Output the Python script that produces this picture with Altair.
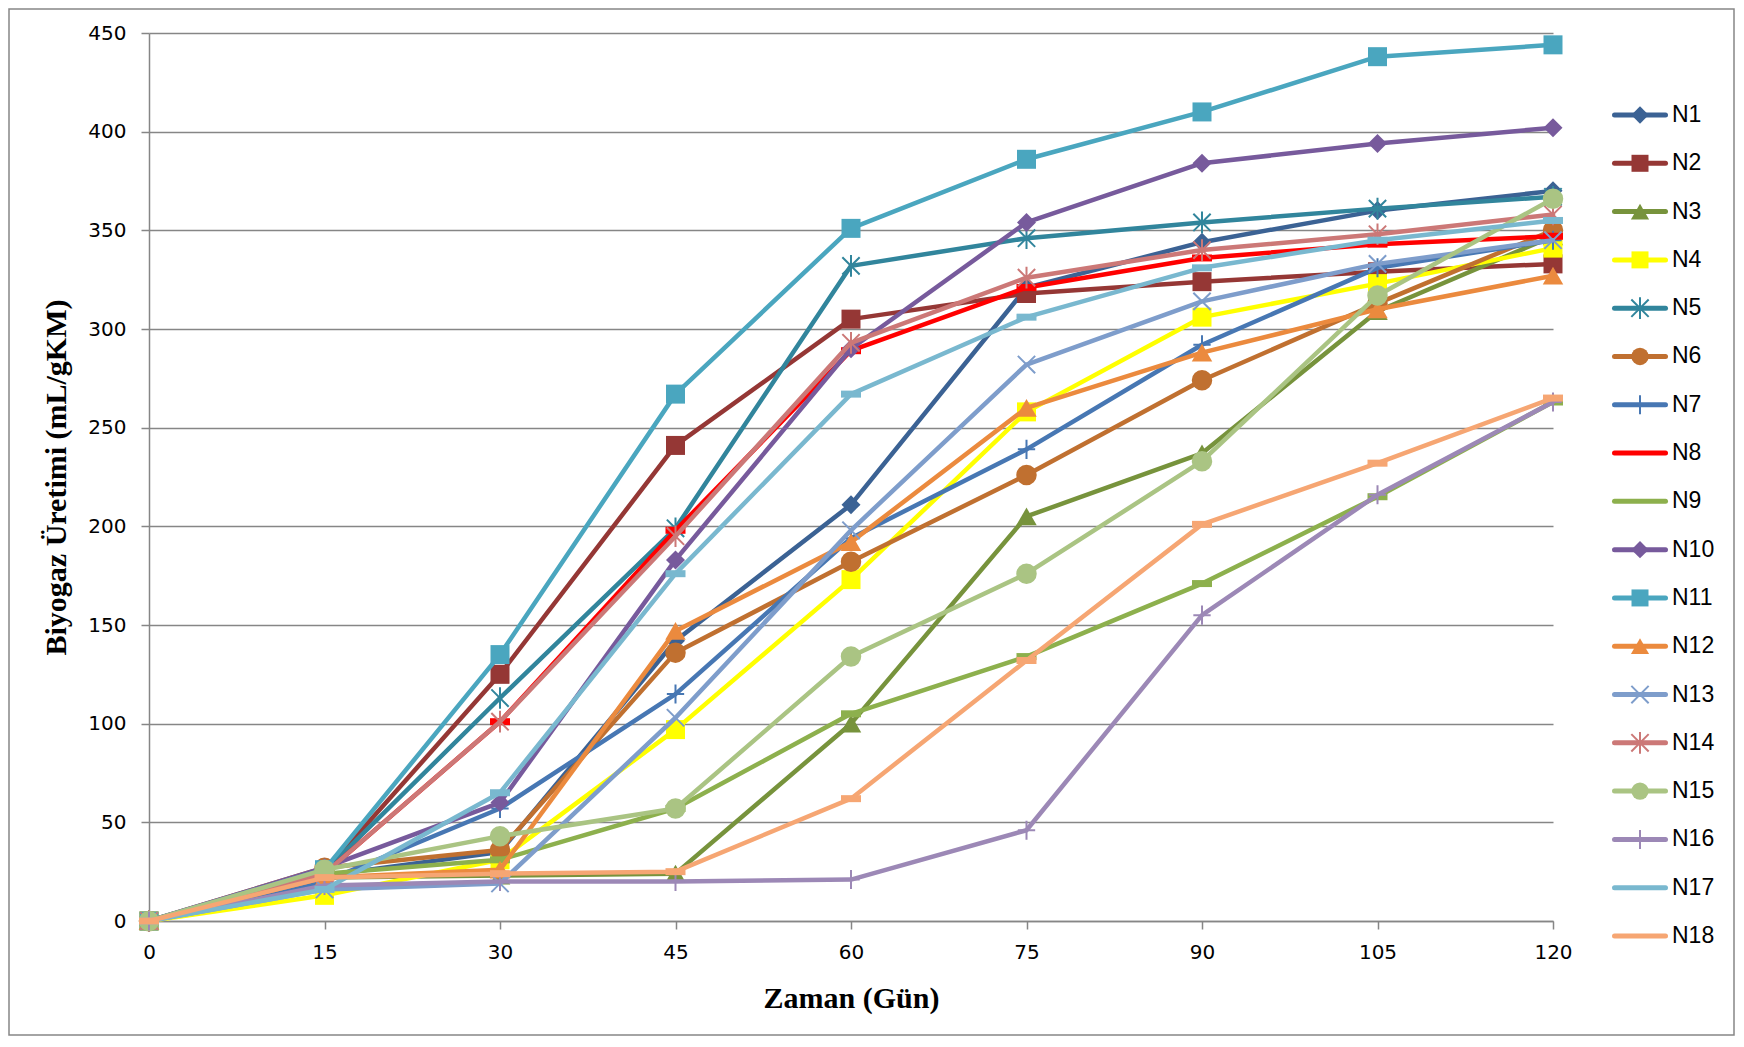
import altair as alt
import pandas as pd

days = [0, 15, 30, 45, 60, 75, 90, 105, 120]
names = ["N1", "N2", "N3", "N4", "N5", "N6", "N7", "N8", "N9",
         "N10", "N11", "N12", "N13", "N14", "N15", "N16", "N17", "N18"]

N1 = [0, 23, 35, 142, 211, 321, 344, 360, 370]
N2 = [0, 25, 125, 241, 305, 318, 324, 329, 333]
N3 = [0, 22, 23, 24, 100, 205, 237, 309, 347]
N4 = [0, 13, 31, 97, 173, 258, 306, 323, 341]
N5 = [0, 25, 113, 199, 332, 346, 354, 361, 367]
N6 = [0, 27, 36, 136, 182, 226, 274, 313, 350]
N7 = [0, 20, 57, 115, 194, 239, 292, 331, 345]
N8 = [0, 24, 101, 198, 289, 321, 336, 343, 347]
N9 = [0, 24, 31, 57, 105, 134, 171, 215, 263]
N10 = [0, 27, 60, 183, 290, 354, 384, 394, 402]
N11 = [0, 26, 135, 267, 351, 386, 410, 438, 444]
N12 = [0, 22, 26, 147, 192, 260, 288, 310, 327]
N13 = [0, 16, 19, 103, 198, 282, 314, 333, 345]
N14 = [0, 24, 101, 195, 293, 326, 340, 348, 358]
N15 = [0, 26, 43, 57, 134, 176, 233, 317, 366]
N16 = [0, 18, 20, 20, 21, 46, 155, 216, 263]
N17 = [0, 16, 65, 176, 267, 306, 331, 345, 355]
N18 = [0, 22, 24, 25, 62, 132, 201, 232, 265]

series_values = [N1, N2, N3, N4, N5, N6, N7, N8, N9,
                 N10, N11, N12, N13, N14, N15, N16, N17, N18]

colors = ["#3B6294", "#953735", "#77933C", "#FFFF00", "#31859C", "#C07030",
          "#4777B3", "#FF0000", "#8DB04D", "#775A9C", "#4AA6BF", "#EB8A3E",
          "#7E9DCB", "#CC7877", "#AAC483", "#9C88B6", "#79B8CF", "#F6A673"]

marker_kind = ["diamond", "square", "triangle", "square", "asterisk", "circle",
               "plus", "dash", "dash", "diamond", "square", "triangle",
               "x", "asterisk", "circle", "plus", "dash", "dash"]

y_ticks = [0, 50, 100, 150, 200, 250, 300, 350, 400, 450]

# marker shapes: (vega shape, filled, size in plot, size in legend)
SHAPES = {
    "diamond": ("diamond", True, 361, 300),
    "square": ("square", True, 361, 289),
    "triangle": ("triangle-up", True, 420, 330),
    "circle": ("circle", True, 420, 300),
    "asterisk": ("M-1,-1L1,1M-1,1L1,-1M0,-1.25L0,1.25", False, 300, 300),
    "x": ("M-1,-1L1,1M-1,1L1,-1", False, 300, 300),
    "plus": ("M-1,0L1,0M0,-1.1L0,1.1", False, 300, 300),
    "dash": ("M-1,-0.35L1,-0.35L1,0.35L-1,0.35Z", True, 400, 60),
}

rows = []
for n, vals in zip(names, series_values):
    for d, v in zip(days, vals):
        rows.append({"name": n, "day": d, "value": v})
df = pd.DataFrame(rows)

W, H = 1404, 888
PAD = {"left": 141, "top": 25, "right": 182, "bottom": 115}

x_enc = alt.X(
    "day:Q",
    scale=alt.Scale(domain=[0, 120], nice=False),
    axis=alt.Axis(values=days, title="Zaman (Gün)", grid=False, labelFlush=False,
                  labelPadding=13, titlePadding=21),
)
y_enc = alt.Y(
    "value:Q",
    scale=alt.Scale(domain=[0, 450], nice=False),
    axis=alt.Axis(values=y_ticks, title="Biyogaz Üretimi (mL/gKM)", grid=True,
                  labelFlush=False, labelPadding=15, titlePadding=16),
)

base = alt.Chart(df).encode(x=x_enc, y=y_enc)

main_layers = []
for n, c, k in zip(names, colors, marker_kind):
    shp, filled, size, _ = SHAPES[k]
    sub = base.transform_filter(alt.datum.name == n)
    main_layers.append(
        sub.mark_line(color=c, strokeWidth=4.5, strokeJoin="round", strokeCap="round")
    )
    if filled:
        pt = sub.mark_point(shape=shp, filled=True, fill=c, size=size, opacity=1,
                            strokeWidth=0)
    else:
        pt = sub.mark_point(shape=shp, filled=False, stroke=c, size=size, opacity=1,
                            strokeWidth=2)
    main_layers.append(pt)

main = alt.layer(*main_layers)

# legend drawn as its own layer, rows placed by a point scale over the series names
leg_df = pd.DataFrame({"name": names})
leg_y = alt.Y("name:N", scale=alt.Scale(type="point", domain=names, range=[82, 903],
                                        padding=0), axis=None)
leg_base = alt.Chart(leg_df).encode(y=leg_y)
leg_layers = []
for n, c, k in zip(names, colors, marker_kind):
    shp, filled, _, lsize = SHAPES[k]
    sub = leg_base.transform_filter(alt.datum.name == n)
    leg_layers.append(
        sub.mark_rule(color=c, strokeWidth=5, strokeCap="round").encode(
            x=alt.value(1465.5), x2=alt.value(1516.5))
    )
    if filled:
        pt = sub.mark_point(shape=shp, filled=True, fill=c, size=lsize, opacity=1,
                            strokeWidth=0)
    else:
        pt = sub.mark_point(shape=shp, filled=False, stroke=c, size=lsize, opacity=1,
                            strokeWidth=2)
    leg_layers.append(pt.encode(x=alt.value(1491)))
leg_layers.append(
    leg_base.mark_text(align="left", baseline="middle", font="Liberation Sans",
                       fontSize=23, color="black").encode(
        x=alt.value(1523), text="name:N")
)
legend = alt.layer(*leg_layers)

border = alt.Chart(pd.DataFrame({"a": [0]})).mark_rect(
    fillOpacity=0, stroke="#868686", strokeWidth=1.5
).encode(
    x=alt.value(-PAD["left"] + 1), x2=alt.value(W + PAD["right"] - 1),
    y=alt.value(-PAD["top"] + 1), y2=alt.value(H + PAD["bottom"] - 1),
)

chart = alt.layer(main, legend, border).resolve_scale(y="independent").properties(
    width=W, height=H,
    autosize=alt.AutoSizeParams(type="none"),
    padding=PAD,
    background="white",
).configure_view(stroke=None).configure_axis(
    domainColor="#868686", domainWidth=1.5,
    tickColor="#868686", tickWidth=1.5, tickSize=8,
    gridColor="#868686", gridWidth=1.5,
    labelFont="DejaVu Sans", labelFontSize=20, labelColor="black",
    titleFont="Liberation Serif", titleFontSize=30, titleFontWeight="bold",
    titleColor="black",
)

chart.save("out.html", embed_options={"renderer": "svg", "actions": False})
